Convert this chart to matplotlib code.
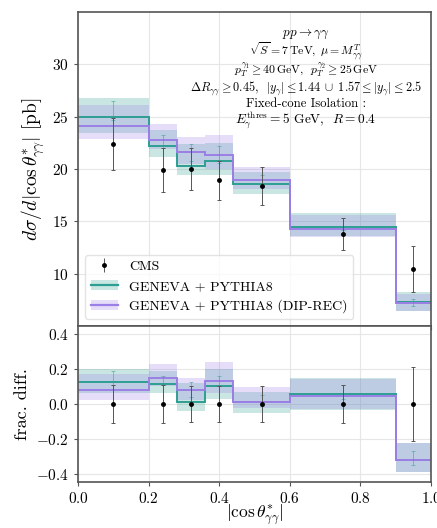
import numpy as np
import matplotlib
matplotlib.use("Agg")
import matplotlib.pyplot as plt
from matplotlib.patches import Patch
from matplotlib.lines import Line2D

plt.rcParams['font.family'] = 'serif'
plt.rcParams['font.serif'] = ['cmr10']
plt.rcParams['mathtext.fontset'] = 'cm'
plt.rcParams['axes.formatter.use_mathtext'] = True

# bins em |cos theta*|
bordas = [0.0, 0.2, 0.28, 0.36, 0.44, 0.6, 0.9, 1.0]
centros = [0.1, 0.24, 0.32, 0.40, 0.52, 0.75, 0.95]

# dados CMS (pb)
cms = [22.4, 19.9, 20.0, 18.9, 18.4, 13.8, 10.4]
cms_err = [2.5, 2.1, 2.0, 1.9, 1.8, 1.55, 2.2]

# Geneva + Pythia8
geneva = [25.0, 22.2, 20.3, 20.8, 18.6, 14.5, 7.3]
geneva_lo = [23.4, 21.1, 19.4, 19.4, 17.6, 13.6, 6.4]
geneva_hi = [26.8, 23.7, 22.4, 22.5, 19.7, 15.8, 8.2]
geneva_stat_lo = [24.7, 22.0, 20.8, 20.6, 18.3, 14.2, 6.9]
geneva_stat_hi = [26.5, 23.2, 22.4, 22.2, 19.4, 15.3, 7.6]

# Geneva + Pythia8 (dip-rec)
diprec = [24.1, 22.8, 21.6, 21.3, 18.9, 14.3, 7.2]
diprec_lo = [22.9, 21.9, 20.5, 20.0, 18.1, 13.5, 6.4]
diprec_hi = [26.1, 24.3, 23.1, 23.2, 20.2, 15.6, 8.1]

# diferenca fracionaria (painel de baixo)
cms_frac_err = [0.11, 0.11, 0.10, 0.10, 0.10, 0.11, 0.21]
geneva_frac = [0.123, 0.114, 0.013, 0.105, 0.01, 0.057, -0.32]
geneva_frac_lo = [0.06, 0.06, -0.038, 0.028, -0.053, -0.032, -0.39]
geneva_frac_hi = [0.20, 0.19, 0.12, 0.20, 0.07, 0.146, -0.22]
diprec_frac = [0.082, 0.148, 0.08, 0.133, 0.013, 0.044, -0.32]
diprec_frac_lo = [0.025, 0.10, 0.025, 0.06, -0.02, -0.03, -0.39]
diprec_frac_hi = [0.17, 0.227, 0.15, 0.237, 0.095, 0.14, -0.22]
geneva_frac_stat_lo = [0.108, 0.108, 0.04, 0.10, -0.01, 0.03, -0.35]
geneva_frac_stat_hi = [0.19, 0.16, 0.123, 0.16, 0.05, 0.11, -0.27]

cor_teal = '#2f9e92'
cor_roxo = '#9c7fe6'

fig = plt.figure(figsize=(4.37, 5.28), dpi=100)
ax1 = fig.add_axes([0.1785, 0.3826, 0.808, 0.5947])
ax2 = fig.add_axes([0.1785, 0.0871, 0.808, 0.2955], sharex=ax1)

# painel de cima
ax1.stairs(geneva_hi, bordas, baseline=geneva_lo, fill=True, color=cor_teal, alpha=0.25, lw=0)
ax1.stairs(diprec_hi, bordas, baseline=diprec_lo, fill=True, color=cor_roxo, alpha=0.25, lw=0)
ax1.stairs(geneva, bordas, baseline=None, color=cor_teal, lw=1.4)
ax1.stairs(diprec, bordas, baseline=None, color=cor_roxo, lw=1.4)
ax1.errorbar(centros, cms, yerr=cms_err, fmt='o', color='black', ms=2.5,
             elinewidth=0.7, capsize=1.5, capthick=0.7, ecolor='#555555', zorder=5)
stat_mid = [(a + b) / 2 for a, b in zip(geneva_stat_lo, geneva_stat_hi)]
stat_err = [(b - a) / 2 for a, b in zip(geneva_stat_lo, geneva_stat_hi)]
ax1.errorbar(centros, stat_mid, yerr=stat_err, fmt='none', ecolor=cor_teal,
             elinewidth=0.6, capsize=1.5, capthick=0.6, alpha=0.6, zorder=4)

ax1.set_ylim(5, 35)
ax1.set_yticks([10, 15, 20, 25, 30])
ax1.set_ylabel(r'$d\sigma/d|\cos\theta^{*}_{\gamma\gamma}|$ [pb]', fontsize=14)

# texto com os cortes
linhas = [
    (0.929, 9.5, r'$pp \to \gamma\gamma$'),
    (0.872, 8.5, r'$\sqrt{S} = 7\,\mathrm{TeV},\; \mu = M_{\gamma\gamma}^{T}$'),
    (0.814, 8.5, r'$p_T^{\gamma_1} \geq 40\,\mathrm{GeV},\;\; p_T^{\gamma_2} \geq 25\,\mathrm{GeV}$'),
    (0.758, 8.8, r'$\Delta R_{\gamma\gamma} \geq 0.45,\;\; |y_\gamma| \leq 1.44\; \cup\; 1.57 \leq |y_\gamma| \leq 2.5$'),
    (0.707, 9.2, 'Fixed-cone Isolation :'),
    (0.654, 9.6, r'$E_\gamma^{\mathrm{thres}} = 5$ GeV,  $R = 0.4$'),
]
for y, fs, txt in linhas:
    ax1.text(0.645, y, txt, transform=ax1.transAxes, ha='center', va='center', fontsize=fs)

h_cms = ax1.errorbar([], [], yerr=[], fmt='o', color='black', ms=2.5,
                     elinewidth=0.7, capsize=1.5, ecolor='#555555')
h_gen = (Patch(facecolor=cor_teal, alpha=0.25), Line2D([], [], color=cor_teal, lw=1.6))
h_dip = (Patch(facecolor=cor_roxo, alpha=0.25), Line2D([], [], color=cor_roxo, lw=1.6))
ax1.legend([h_cms, h_gen, h_dip],
           ['CMS', 'GENEVA + PYTHIA8', 'GENEVA + PYTHIA8 (DIP-REC)'],
           loc='lower left', fontsize=10, frameon=True, framealpha=0.8,
           edgecolor='#dddddd', borderaxespad=0.5, handlelength=2.0)

# painel de baixo
zeros = [0.0] * len(centros)
ax2.stairs(geneva_frac_hi, bordas, baseline=geneva_frac_lo, fill=True, color=cor_teal, alpha=0.25, lw=0)
ax2.stairs(diprec_frac_hi, bordas, baseline=diprec_frac_lo, fill=True, color=cor_roxo, alpha=0.25, lw=0)
ax2.stairs(geneva_frac, bordas, baseline=None, color=cor_teal, lw=1.4)
ax2.stairs(diprec_frac, bordas, baseline=None, color=cor_roxo, lw=1.4)
ax2.errorbar(centros, zeros, yerr=cms_frac_err, fmt='o', color='black', ms=2.5,
             elinewidth=0.7, capsize=1.5, capthick=0.7, ecolor='#555555', zorder=5)
fmid = [(a + b) / 2 for a, b in zip(geneva_frac_stat_lo, geneva_frac_stat_hi)]
ferr = [(b - a) / 2 for a, b in zip(geneva_frac_stat_lo, geneva_frac_stat_hi)]
ax2.errorbar(centros, fmid, yerr=ferr, fmt='none', ecolor=cor_teal,
             elinewidth=0.6, capsize=1.5, capthick=0.6, alpha=0.6, zorder=4)

ax2.set_ylim(-0.445, 0.445)
ax2.set_yticks([-0.4, -0.2, 0.0, 0.2, 0.4])
ax2.set_xlim(0, 1)
ax2.set_xticks([0.0, 0.2, 0.4, 0.6, 0.8, 1.0])
ax2.set_ylabel('frac. diff.', fontsize=13)
ax2.set_xlabel(r'$|\cos\theta^{*}_{\gamma\gamma}|$', fontsize=12.5)
ax2.xaxis.set_label_coords(0.5, -0.13)
ax1.tick_params(labelbottom=False)

for ax in (ax1, ax2):
    ax.grid(True, color='#e6e6e6', lw=0.8)
    ax.set_axisbelow(True)
    ax.tick_params(labelsize=11, color='#555555', length=3)
    for s in ax.spines.values():
        s.set_color('#555555')
        s.set_linewidth(1.2)

fig.savefig('out.png', dpi=100)
